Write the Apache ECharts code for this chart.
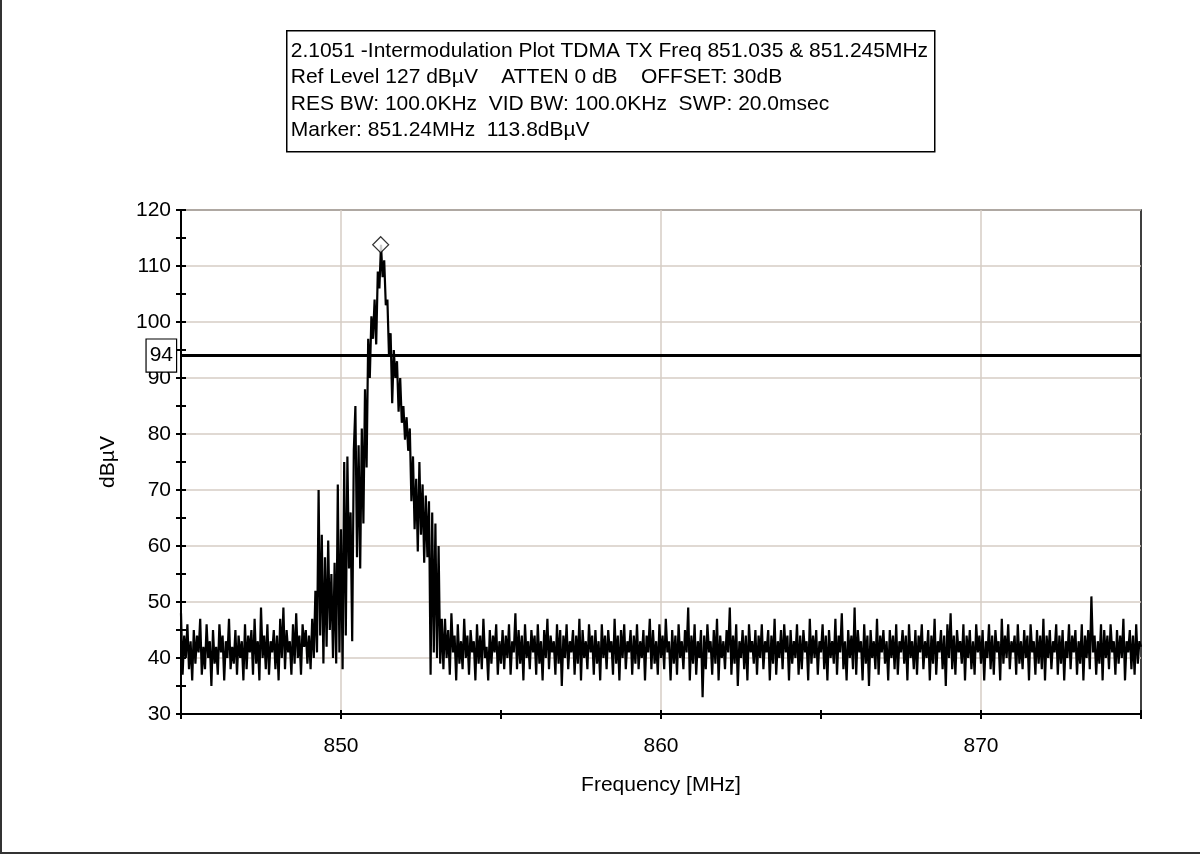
<!DOCTYPE html>
<html>
<head>
<meta charset="utf-8">
<script src="https://cdn.jsdelivr.net/npm/echarts@6/dist/echarts.min.js"></script>
<style>
  html, body { margin: 0; padding: 0; background: #fff; }
  #chart { width: 1200px; height: 854px; }
  #frame {
    position: absolute; left: 0; top: 0; width: 1200px; height: 854px;
    box-sizing: border-box; border-left: 2px solid #333; border-bottom: 2px solid #333;
    pointer-events: none;
  }
</style>
</head>
<body>
<div id="chart"></div>
<div id="frame"></div>
<script>
// sweep: 845.00 .. 875.00 MHz, 0.05 MHz per point
const freqStart = 845.0;
const freqStep = 0.05;

// 845.00 - 848.95
const noiseLeft = [
  48, 37, 44, 40, 46, 38, 43, 36, 45, 39, 44, 41, 47, 37, 42, 38, 46, 40, 43, 35,
  45, 39, 42, 37, 46, 41, 44, 36, 43, 40, 47, 38, 42, 39, 45, 37, 44, 40, 43, 36,
  46, 38, 44, 41, 45, 37, 47, 39, 43, 36, 49, 40, 44, 38, 46, 37, 43, 41, 45, 38,
  44, 36, 47, 40, 49, 38, 45, 41, 43, 37, 46, 39, 48, 40, 44, 37, 46, 42, 45, 39
];

// 849.00 - 853.15 (carrier)
const signal = [
  44, 38, 47, 40, 52, 41, 70, 44, 62, 39, 58, 42, 61, 45, 55, 40, 57, 39, 71, 41,
  63, 38, 75, 44, 76, 56, 66, 43, 77, 85, 58, 78, 56, 81, 64, 88, 74, 97, 90, 101,
  97, 104, 96, 109, 106, 113.8, 108, 111, 103, 104, 94, 98, 85.5, 95, 90, 93, 84, 90, 82, 85,
  79, 83, 77, 81, 68, 76, 63, 72, 59, 75, 62, 71, 57, 69, 58, 68, 37, 66, 41, 64,
  40, 60, 39, 47
];

// 853.20 - 875.00
const noiseRight = [
  38, 47, 40, 45, 37, 48, 41, 44, 36, 46, 39, 43, 38, 47, 40, 44,
  37, 45, 41, 43, 36, 46, 39, 44, 38, 47, 40, 42, 36, 45, 39, 44, 41, 46, 37, 43,
  39, 45, 38, 44, 40, 46, 37, 43, 41, 48, 38, 45, 39, 44, 36, 46, 40, 43, 38, 45,
  41, 44, 37, 46, 39, 43, 36, 45, 40, 47, 38, 44, 41, 43, 37, 46, 39, 45, 35, 44,
  40, 46, 38, 43, 41, 45, 37, 44, 39, 47, 36, 45, 40, 43, 38, 46, 41, 44, 37, 45,
  39, 43, 36, 46, 40, 44, 38, 45, 41, 43, 37, 47, 39, 44, 36, 45, 40, 46, 38, 43,
  41, 45, 37, 44, 39, 46, 38, 43, 40, 45, 36, 44, 41, 47, 38, 45, 39, 43, 37, 46,
  40, 44, 38, 47, 41, 43, 36, 45, 39, 44, 37, 46, 40, 43, 38, 45, 41, 49, 36, 44,
  39, 46, 37, 43, 40, 45, 33, 44, 38, 46, 41, 43, 37, 45, 39, 47, 36, 44, 40, 43,
  38, 45, 41, 49, 37, 44, 39, 46, 35, 43, 40, 45, 38, 44, 36, 46, 41, 43, 39, 45,
  37, 44, 40, 46, 38, 43, 41, 45, 36, 44, 39, 47, 37, 43, 40, 45, 38, 46, 41, 44,
  36, 45, 39, 43, 40, 46, 37, 44, 38, 45, 41, 43, 36, 47, 39, 44, 40, 45, 37, 43,
  41, 46, 38, 44, 36, 45, 40, 43, 39, 47, 37, 44, 41, 48, 38, 43, 36, 45, 40, 44,
  38, 49, 37, 45, 41, 43, 36, 46, 39, 44, 35, 45, 40, 43, 38, 47, 37, 44, 41, 45,
  39, 43, 36, 45, 40, 44, 38, 46, 37, 43, 41, 45, 39, 44, 36, 46, 40, 43, 38, 45,
  37, 44, 41, 46, 38, 43, 40, 45, 36, 44, 39, 47, 37, 43, 41, 45, 38, 44, 35, 46,
  40, 48, 38, 44, 37, 45, 41, 43, 39, 46, 36, 44, 40, 45, 38, 43, 37, 46, 41, 44,
  39, 45, 36, 43, 40, 46, 38, 44, 37, 45, 41, 43, 36, 47, 39, 44, 40, 46, 38, 43,
  41, 44, 37, 46, 39, 43, 38, 45, 40, 44, 36, 46, 41, 43, 37, 45, 39, 44, 38, 47,
  36, 44, 40, 45, 38, 43, 41, 46, 37, 44, 39, 45, 36, 43, 40, 46, 38, 44, 41, 45,
  37, 43, 39, 46, 36, 44, 40, 45, 38, 51, 41, 44, 37, 43, 39, 46, 36, 45, 40, 44,
  38, 46, 41, 43, 37, 45, 39, 44, 40, 47, 36, 43, 41, 45, 38, 44, 37, 46, 39, 43,
  42
];

const marker = [851.24, 113.8];
const limitLevel = 94;
const xLabels = [850, 860, 870];
const infoLines = [
  '2.1051 -Intermodulation Plot TDMA TX Freq 851.035 & 851.245MHz',
  'Ref Level 127 dB\u00b5V    ATTEN 0 dB    OFFSET: 30dB',
  'RES BW: 100.0KHz  VID BW: 100.0KHz  SWP: 20.0msec',
  'Marker: 851.24MHz  113.8dB\u00b5V'
];

const levels = noiseLeft.concat(signal, noiseRight);
const trace = levels.map((v, i) => [+(freqStart + i * freqStep).toFixed(2), v]);

const font = '"Liberation Sans", Arial, sans-serif';
const gridColor = '#d6ccc5';

const chart = echarts.init(document.getElementById('chart'));

const tickCommon = { show: true, length: 5, lineStyle: { color: '#000', width: 2 } };

chart.setOption({
  animation: false,
  backgroundColor: '#fff',
  textStyle: { fontFamily: font },
  grid: {
    left: 181, right: 59, top: 210, bottom: 140,
    show: true, borderColor: '#000', borderWidth: 1.5, backgroundColor: 'transparent'
  },
  xAxis: [
    {
      type: 'value', min: 845, max: 875, interval: 5, position: 'bottom',
      name: 'Frequency [MHz]', nameLocation: 'middle', nameGap: 61,
      nameTextStyle: { fontSize: 21, color: '#000', fontFamily: font },
      axisLine: { lineStyle: { color: '#000', width: 2 } },
      axisTick: tickCommon,
      axisLabel: {
        fontSize: 21, color: '#000', margin: 22, fontFamily: font,
        formatter: (v) => (xLabels.includes(v) ? String(v) : '')
      },
      splitLine: { show: true, lineStyle: { color: ['transparent', gridColor], width: 1.5 } }
    },
    {
      type: 'value', min: 845, max: 875, interval: 5, position: 'bottom',
      axisLine: { show: false },
      axisTick: Object.assign({}, tickCommon, { inside: true, length: 4 }),
      axisLabel: { show: false },
      splitLine: { show: false }
    }
  ],
  yAxis: [
    {
      type: 'value', min: 30, max: 120, interval: 5, position: 'left',
      name: 'dB\u00b5V', nameLocation: 'middle', nameGap: 62,
      nameTextStyle: { fontSize: 21, color: '#000', fontFamily: font },
      axisLine: { show: true, lineStyle: { color: '#000', width: 2 } },
      axisTick: tickCommon,
      axisLabel: {
        fontSize: 21, color: '#000', margin: 10, fontFamily: font,
        formatter: (v) => (v % 10 === 0 ? String(v) : '')
      },
      splitLine: { show: true, lineStyle: { color: [gridColor, 'transparent'], width: 1.5 } }
    },
    {
      type: 'value', min: 30, max: 120, interval: 5, position: 'left',
      axisLine: { show: false },
      axisTick: Object.assign({}, tickCommon, { inside: true, length: 5 }),
      axisLabel: { show: false },
      splitLine: { show: false }
    }
  ],
  series: [
    {
      name: 'Trace',
      type: 'line',
      xAxisIndex: 0, yAxisIndex: 0,
      data: trace,
      showSymbol: false,
      sampling: null,
      lineStyle: { color: '#000', width: 2.2, join: 'bevel' },
      z: 3,
      markLine: {
        silent: true,
        symbol: 'none',
        lineStyle: { color: '#000', width: 3, type: 'solid' },
        label: {
          position: 'start', distance: 5,
          formatter: String(limitLevel),
          fontSize: 21, color: '#000', fontFamily: font,
          backgroundColor: '#fff', borderColor: '#000', borderWidth: 1.2,
          padding: [5, 3, 4, 3], lineHeight: 23
        },
        data: [{ yAxis: limitLevel }]
      }
    },
    {
      name: 'Marker',
      type: 'scatter',
      xAxisIndex: 0, yAxisIndex: 0,
      data: [marker],
      symbol: 'diamond',
      symbolSize: 16,
      itemStyle: { color: '#fff', borderColor: '#000', borderWidth: 1.2 },
      z: 5
    }
  ],
  graphic: [
    {
      type: 'group', left: 286, top: 30,
      children: [
        {
          type: 'rect',
          shape: { x: 0, y: 0, width: 648, height: 121 },
          style: { fill: '#fff', stroke: '#000', lineWidth: 1.5 }
        },
        {
          type: 'text', x: 4, y: 7,
          style: {
            text: infoLines.join('\n'),
            font: '21px ' + font,
            lineHeight: 26.5,
            fill: '#000'
          }
        }
      ]
    }
  ]
});
</script>
</body>
</html>
